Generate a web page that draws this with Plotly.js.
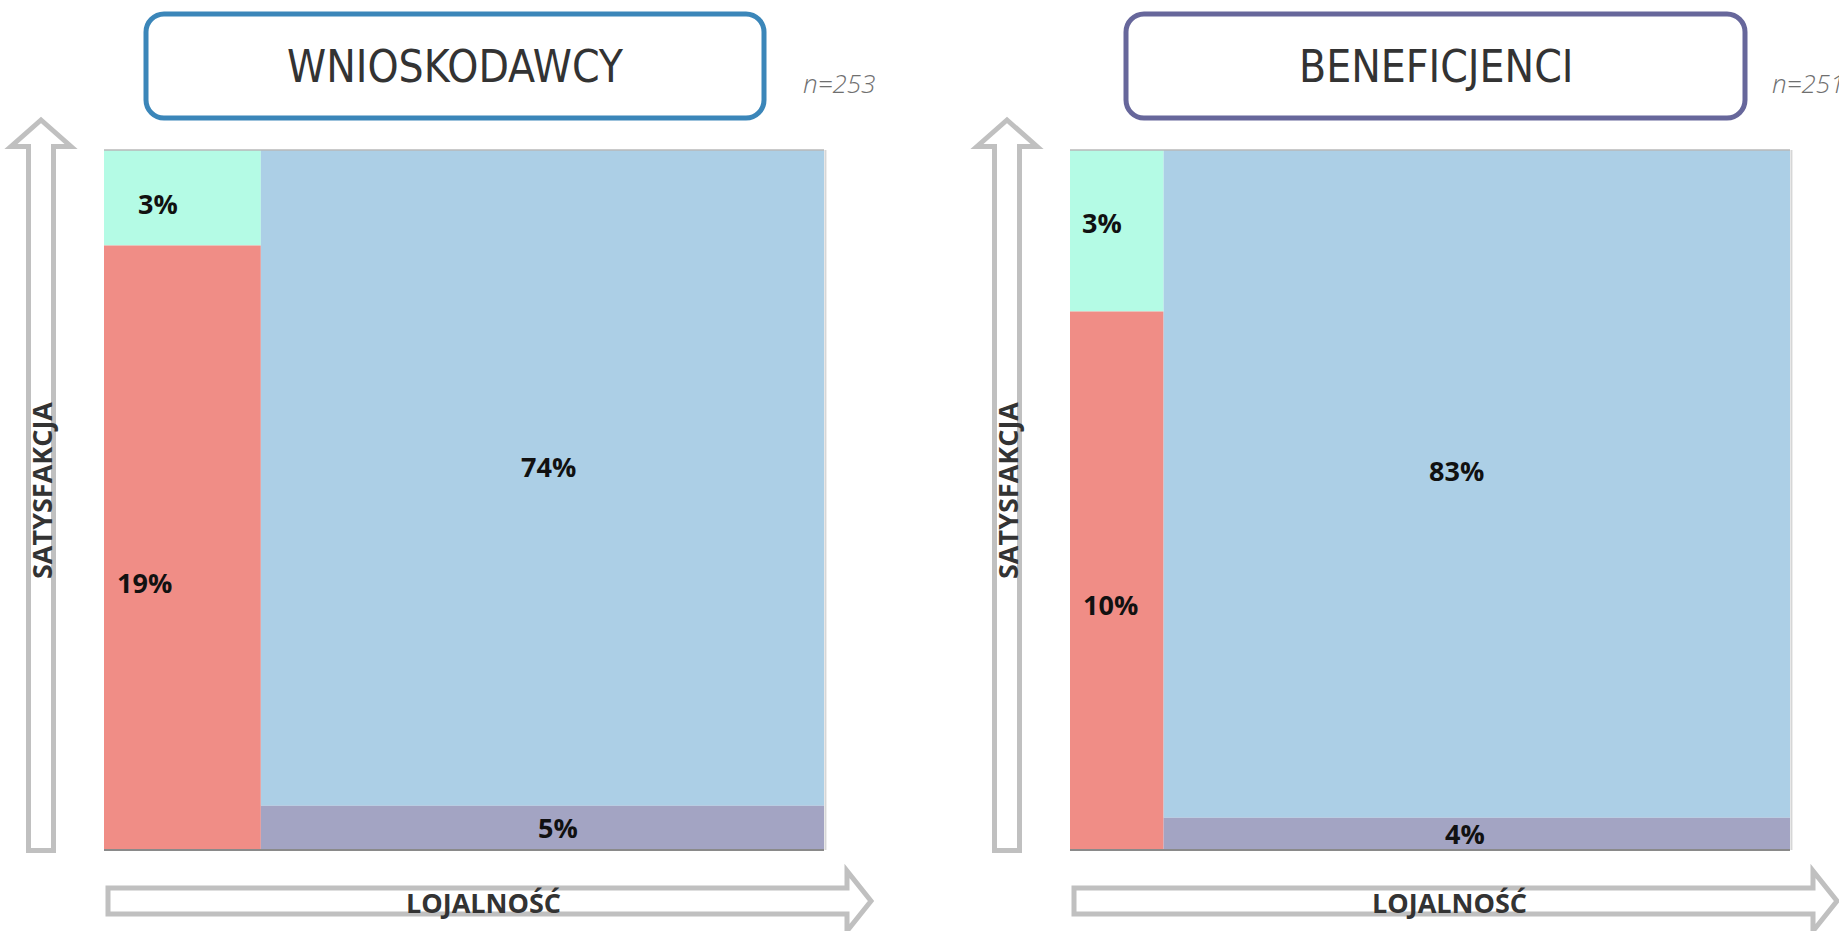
<!DOCTYPE html>
<html>
<head>
<meta charset="utf-8">
<script src="https://cdn.plot.ly/plotly-3.0.1.min.js"></script>
<style>
  html, body { margin: 0; padding: 0; background: #ffffff; }
  #chart { width: 1839px; height: 931px; }
</style>
</head>
<body>
<div id="chart"></div>
<script>
// Segment shares (%) for each respondent group
const groupTitles = ['WNIOSKODAWCY', 'BENEFICJENCI'];
const sampleLabels = ['n=253', 'n=251'];
const xAxisTitle = 'LOJALNOŚĆ';
const yAxisTitle = 'SATYSFAKCJA';
const highSatLowLoyal = [3, 3];     // top of the low-loyalty column
const lowSatLowLoyal = [19, 10];    // bottom of the low-loyalty column
const highSatHighLoyal = [74, 83];  // top of the high-loyalty column
const lowSatHighLoyal = [5, 4];     // bottom of the high-loyalty column

const W = 1839, H = 931;
const px = x => x / W;
const py = y => 1 - y / H;

// Styling
const colors = { green: '#b4fbe5', red: '#f08d86', blue: '#accfe6', purple: '#a3a4c3' };
const boxColors = ['#3b86b9', '#67679b'];
const xDomains = [[104 / W, 824 / W], [1070 / W, 1790 / W]];
const yDomain = [py(850), py(150)];
const panelShift = [0, 966];
const boxX = [[146, 764], [1126, 1745]];
// label nudges in pixels: [green, red, blue, purple]
const labelShiftX = [[-24, -38, 6, 16], [-15, -6, -20, -12]];
const labelShiftY = [[-6, -35, 11, 0], [8, -24, 13, 0]];

const boldFont = { family: 'Open Sans, Liberation Sans, sans-serif', size: 27, color: '#111111', weight: 700 };
const axisFont = { family: 'Open Sans, Liberation Sans, sans-serif', size: 27, color: '#333333', weight: 700 };

const traces = [];
const annotations = [];
const shapes = [];
const layout = {
  width: W, height: H,
  margin: { l: 0, r: 0, t: 0, b: 0 },
  paper_bgcolor: '#ffffff', plot_bgcolor: '#ffffff',
  showlegend: false,
  barmode: 'overlay',
  annotations, shapes
};

function roundRect(x0, y0, x1, y1, r) {
  const k = 0.5523 * r;
  const P = (x, y) => px(x) + ',' + py(y);
  return 'M' + P(x0 + r, y0) +
    ' L' + P(x1 - r, y0) +
    ' C' + P(x1 - r + k, y0) + ' ' + P(x1, y0 + r - k) + ' ' + P(x1, y0 + r) +
    ' L' + P(x1, y1 - r) +
    ' C' + P(x1, y1 - r + k) + ' ' + P(x1 - r + k, y1) + ' ' + P(x1 - r, y1) +
    ' L' + P(x0 + r, y1) +
    ' C' + P(x0 + r - k, y1) + ' ' + P(x0, y1 - r + k) + ' ' + P(x0, y1 - r) +
    ' L' + P(x0, y0 + r) +
    ' C' + P(x0, y0 + r - k) + ' ' + P(x0 + r - k, y0) + ' ' + P(x0 + r, y0) + ' Z';
}

function polyPath(points, dx) {
  return points.map((p, i) => (i ? 'L' : 'M') + px(p[0] + dx) + ',' + py(p[1])).join(' ') + ' Z';
}

const upArrow = [[28.5, 850.5], [28.5, 146.5], [11, 146.5], [41, 120], [71, 146.5], [53.5, 146.5], [53.5, 850.5]];
const rightArrow = [[108, 888], [847, 888], [847, 871], [871, 901], [847, 931], [847, 914], [108, 914]];

groupTitles.forEach((title, i) => {
  const xa = i === 0 ? 'x' : 'x2';
  const ya = i === 0 ? 'y' : 'y2';
  const axKey = i === 0 ? 'xaxis' : 'xaxis2';
  const ayKey = i === 0 ? 'yaxis' : 'yaxis2';

  layout[axKey] = { domain: xDomains[i], range: [0, 100], showgrid: false, zeroline: false,
    showticklabels: false, ticks: '', showline: false, fixedrange: true, anchor: ya };
  layout[ayKey] = { domain: yDomain, range: [0, 100], showgrid: false, zeroline: false,
    showticklabels: false, ticks: '', showline: false, fixedrange: true, anchor: xa };

  const g = highSatLowLoyal[i], r = lowSatLowLoyal[i];
  const b = highSatHighLoyal[i], p = lowSatHighLoyal[i];
  const total = g + r + b + p;
  const wLow = (g + r) / total * 100;
  const wHigh = (b + p) / total * 100;

  // mosaic segments: column width = column share, height = share within column
  const segs = [
    { v: g, cx: wLow / 2, w: wLow, base: r / (g + r) * 100, h: g / (g + r) * 100, c: colors.green },
    { v: r, cx: wLow / 2, w: wLow, base: 0, h: r / (g + r) * 100, c: colors.red },
    { v: b, cx: wLow + wHigh / 2, w: wHigh, base: p / (b + p) * 100, h: b / (b + p) * 100, c: colors.blue },
    { v: p, cx: wLow + wHigh / 2, w: wHigh, base: 0, h: p / (b + p) * 100, c: colors.purple }
  ];

  segs.forEach((s, j) => {
    traces.push({
      type: 'bar', xaxis: xa, yaxis: ya,
      x: [s.cx], y: [s.h], base: [s.base], width: [s.w],
      marker: { color: s.c, line: { width: 0 } },
      hoverinfo: 'skip'
    });
    annotations.push({
      xref: xa, yref: ya, x: s.cx, y: s.base + s.h / 2,
      text: s.v + '%', showarrow: false, font: boldFont,
      xshift: labelShiftX[i][j], yshift: labelShiftY[i][j]
    });
  });

  // frame lines of the plot area
  shapes.push({ type: 'line', xref: xa + ' domain', yref: ya + ' domain', x0: 0, x1: 1, y0: 1, y1: 1,
    line: { color: '#b9b9b9', width: 1.5 } });
  shapes.push({ type: 'line', xref: xa + ' domain', yref: ya + ' domain', x0: 1.002, x1: 1.002, y0: 0, y1: 1,
    line: { color: '#d6d6d6', width: 2 } });
  shapes.push({ type: 'line', xref: xa + ' domain', yref: ya + ' domain', x0: 0, x1: 1, y0: 0, y1: 0,
    line: { color: '#8a8a8a', width: 2 } });

  // group header box
  shapes.push({ type: 'path', xref: 'paper', yref: 'paper',
    path: roundRect(boxX[i][0], 14, boxX[i][1], 118, 18),
    fillcolor: '#ffffff', line: { color: boxColors[i], width: 5 } });
  annotations.push({ xref: 'paper', yref: 'paper', x: px((boxX[i][0] + boxX[i][1]) / 2), y: py(66),
    xanchor: 'center', yanchor: 'middle', text: title, showarrow: false,
    font: { family: 'Liberation Sans Narrow, DejaVu Sans Condensed, sans-serif', size: 44, color: '#333333' } });
  annotations.push({ xref: 'paper', yref: 'paper', x: px(801 + panelShift[i] + (i ? 3 : 0)), y: py(83),
    xanchor: 'left', yanchor: 'middle', text: sampleLabels[i], showarrow: false,
    font: { family: 'Open Sans, sans-serif', size: 26, color: '#6f6f6f', style: 'italic', weight: 300 } });

  // axis arrows with their captions
  shapes.push({ type: 'path', xref: 'paper', yref: 'paper', path: polyPath(upArrow, panelShift[i]),
    fillcolor: '#ffffff', line: { color: '#c0c0c0', width: 5 } });
  shapes.push({ type: 'path', xref: 'paper', yref: 'paper', path: polyPath(rightArrow, panelShift[i]),
    fillcolor: '#ffffff', line: { color: '#c0c0c0', width: 5 } });
  annotations.push({ xref: 'paper', yref: 'paper', x: px(41 + panelShift[i]), y: py(491),
    xanchor: 'center', yanchor: 'middle', text: yAxisTitle, textangle: -90, showarrow: false, font: axisFont });
  annotations.push({ xref: 'paper', yref: 'paper', x: px(483 + panelShift[i]), y: py(902),
    xanchor: 'center', yanchor: 'middle', text: xAxisTitle, showarrow: false, font: axisFont });
});

Plotly.newPlot('chart', traces, layout, { displayModeBar: false, staticPlot: true });
</script>
</body>
</html>
